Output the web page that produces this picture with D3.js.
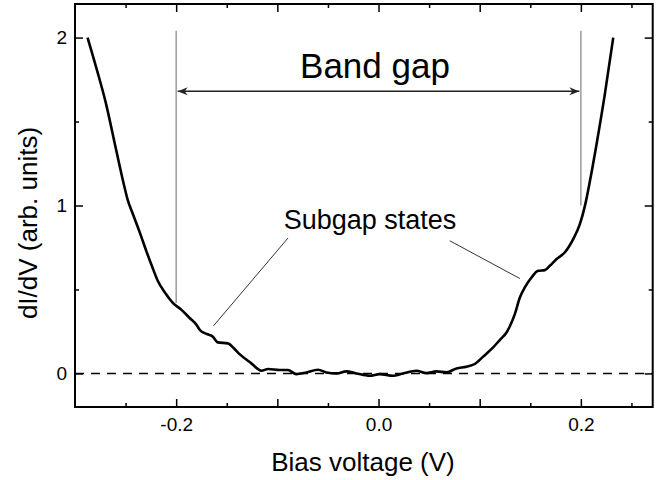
<!DOCTYPE html>
<html>
<head>
<meta charset="utf-8">
<script src="https://cdn.jsdelivr.net/npm/d3@7"></script>
<style>
  body { margin: 0; background: #fff; }
  text { font-family: "Liberation Sans", Arial, sans-serif; fill: #000; }
</style>
</head>
<body>
<div id="chart"></div>
<script>
// bias voltage (V) and dI/dV
var biasV = [-0.2876, -0.278, -0.2699, -0.2593, -0.2525, -0.2476, -0.2428, -0.236, -0.2296, -0.224, -0.2181,
  -0.211, -0.2033, -0.195, -0.1867, -0.18, -0.1768, -0.17, -0.164, -0.1588, -0.1489,
  -0.143, -0.1373, -0.1257, -0.1158, -0.1092, -0.0977, -0.0895, -0.0812, -0.0713, -0.0598,
  -0.0515, -0.0416, -0.0318, -0.0219, -0.0087, 0.0012, 0.0143, 0.0242, 0.0375, 0.0474,
  0.0573, 0.0672, 0.0771, 0.0869, 0.0952, 0.1034, 0.1133, 0.12, 0.1265, 0.1347,
  0.1397, 0.1446, 0.1512, 0.1578, 0.1644, 0.1693, 0.176, 0.184, 0.1924, 0.199,
  0.204, 0.209, 0.2155, 0.2237, 0.232];
var dIdV = [2.0, 1.8, 1.62, 1.33, 1.146, 1.027, 0.949, 0.84, 0.73, 0.64, 0.55,
  0.48, 0.42, 0.38, 0.33, 0.29, 0.26, 0.235, 0.22, 0.185, 0.179,
  0.15, 0.115, 0.06, 0.016, 0.026, 0.02, 0.02, -0.004, 0.006, 0.022,
  0.006, 0.0, 0.012, 0.0, -0.014, -0.004, -0.014, 0.0, 0.016, 0.002,
  0.012, 0.006, 0.03, 0.04, 0.056, 0.1, 0.155, 0.2, 0.244, 0.353,
  0.452, 0.512, 0.571, 0.611, 0.615, 0.641, 0.681, 0.72, 0.8, 0.889,
  0.998, 1.147, 1.365, 1.663, 2.0];

var xMajorTicks = [-0.2, -0.1, 0, 0.1, 0.2];
var xMinorTicks = [-0.25, -0.15, -0.05, 0.05, 0.15, 0.25];
var xTickLabels = {"-0.2": "-0.2", "0": "0.0", "0.2": "0.2"};
var yMajorTicks = [0, 1, 2];
var yMinorTicks = [0.5, 1.5];

// band gap edges and annotations (data units)
var gapEdges = [-0.2, 0.2];
var gapLineTop = 2.04;
var gapLineBottom = [0.42, 1.0];
var arrowLevel = 1.68;
var subgapPointers = [
  [[-0.0895, 0.806], [-0.163, 0.284]],
  [[0.0704, 0.79], [0.1397, 0.565]]
];

var width = 666, height = 480;
var plotL = 75, plotR = 652.7, plotT = 4, plotB = 407;

var svg = d3.select("#chart").append("svg")
    .attr("width", width)
    .attr("height", height);

var x = d3.scaleLinear().domain([-0.3, 0.271]).range([plotL, plotR]);
var y = d3.scaleLinear().domain([-0.2, 2.2]).range([plotB, plotT]);

// zero line
svg.append("line")
    .attr("x1", plotL).attr("x2", plotR)
    .attr("y1", y(0)).attr("y2", y(0))
    .attr("stroke", "#000")
    .attr("stroke-width", 1.5)
    .attr("stroke-dasharray", "9,7");

// band gap verticals
gapEdges.forEach(function(v, i) {
  svg.append("line")
      .attr("x1", x(v)).attr("x2", x(v))
      .attr("y1", y(gapLineTop)).attr("y2", y(gapLineBottom[i]))
      .attr("stroke", "#9a9a9a")
      .attr("stroke-width", 1.5);
});

// arrow heads
var defs = svg.append("defs");
defs.append("marker")
    .attr("id", "head")
    .attr("viewBox", "0 0 10 10")
    .attr("refX", 10).attr("refY", 5)
    .attr("markerWidth", 10).attr("markerHeight", 10)
    .attr("markerUnits", "userSpaceOnUse")
    .attr("orient", "auto-start-reverse")
  .append("path")
    .attr("d", "M0,1 L10,5 L0,9 L3,5 Z")
    .attr("fill", "#222");

svg.append("line")
    .attr("x1", x(gapEdges[0]) + 1.5).attr("x2", x(gapEdges[1]) - 1.5)
    .attr("y1", y(arrowLevel)).attr("y2", y(arrowLevel))
    .attr("stroke", "#222")
    .attr("stroke-width", 1.6)
    .attr("marker-start", "url(#head)")
    .attr("marker-end", "url(#head)");

svg.append("text")
    .attr("x", 375).attr("y", 78)
    .attr("text-anchor", "middle")
    .style("font-size", "35px")
    .text("Band gap");

// subgap pointers
subgapPointers.forEach(function(p) {
  svg.append("line")
      .attr("x1", x(p[0][0])).attr("y1", y(p[0][1]))
      .attr("x2", x(p[1][0])).attr("y2", y(p[1][1]))
      .attr("stroke", "#333")
      .attr("stroke-width", 1);
});

svg.append("text")
    .attr("x", 370).attr("y", 229)
    .attr("text-anchor", "middle")
    .style("font-size", "27px")
    .text("Subgap states");

// curve
var pts = biasV.map(function(v, i) { return [v, dIdV[i]]; });
var line = d3.line()
    .curve(d3.curveMonotoneX)
    .x(function(d) { return x(d[0]); })
    .y(function(d) { return y(d[1]); });

svg.append("path")
    .datum(pts)
    .attr("d", line)
    .attr("fill", "none")
    .attr("stroke", "#000")
    .attr("stroke-width", 2.6)
    .attr("stroke-linejoin", "round");

// axes, ticks point inward
function styleAxis(g) {
  g.attr("font-size", 19).attr("font-family", "'Liberation Sans', Arial, sans-serif");
  g.select(".domain").remove();
  g.selectAll(".tick line").attr("stroke", "#000").attr("stroke-width", 1.5);
}

svg.append("g")
    .attr("transform", "translate(0," + plotB + ")")
    .call(d3.axisBottom(x).tickValues(xMajorTicks).tickSizeInner(-8).tickSizeOuter(0).tickPadding(11)
      .tickFormat(function(d) { return xTickLabels[String(+d.toFixed(2))] || ""; }))
    .call(styleAxis);

svg.append("g")
    .attr("transform", "translate(0," + plotB + ")")
    .call(d3.axisBottom(x).tickValues(xMinorTicks).tickSizeInner(-4).tickSizeOuter(0).tickFormat(""))
    .call(styleAxis);

svg.append("g")
    .attr("transform", "translate(0," + plotT + ")")
    .call(d3.axisTop(x).tickValues(xMajorTicks).tickSizeInner(-8).tickSizeOuter(0).tickFormat(""))
    .call(styleAxis);

svg.append("g")
    .attr("transform", "translate(0," + plotT + ")")
    .call(d3.axisTop(x).tickValues(xMinorTicks).tickSizeInner(-4).tickSizeOuter(0).tickFormat(""))
    .call(styleAxis);

svg.append("g")
    .attr("transform", "translate(" + plotL + ",0)")
    .call(d3.axisLeft(y).tickValues(yMajorTicks).tickSizeInner(-8).tickSizeOuter(0).tickPadding(8)
      .tickFormat(d3.format("d")))
    .call(styleAxis);

svg.append("g")
    .attr("transform", "translate(" + plotL + ",0)")
    .call(d3.axisLeft(y).tickValues(yMinorTicks).tickSizeInner(-4).tickSizeOuter(0).tickFormat(""))
    .call(styleAxis);

svg.append("g")
    .attr("transform", "translate(" + plotR + ",0)")
    .call(d3.axisRight(y).tickValues(yMajorTicks).tickSizeInner(-8).tickSizeOuter(0).tickFormat(""))
    .call(styleAxis);

svg.append("g")
    .attr("transform", "translate(" + plotR + ",0)")
    .call(d3.axisRight(y).tickValues(yMinorTicks).tickSizeInner(-4).tickSizeOuter(0).tickFormat(""))
    .call(styleAxis);

// frame
svg.append("rect")
    .attr("x", plotL).attr("y", plotT)
    .attr("width", plotR - plotL).attr("height", plotB - plotT)
    .attr("fill", "none")
    .attr("stroke", "#000")
    .attr("stroke-width", 2);

// axis titles
svg.append("text")
    .attr("x", 363).attr("y", 471)
    .attr("text-anchor", "middle")
    .style("font-size", "26px")
    .text("Bias voltage (V)");

svg.append("text")
    .attr("transform", "translate(37,223) rotate(-90)")
    .attr("text-anchor", "middle")
    .style("font-size", "26px")
    .text("dI/dV (arb. units)");
</script>
</body>
</html>
